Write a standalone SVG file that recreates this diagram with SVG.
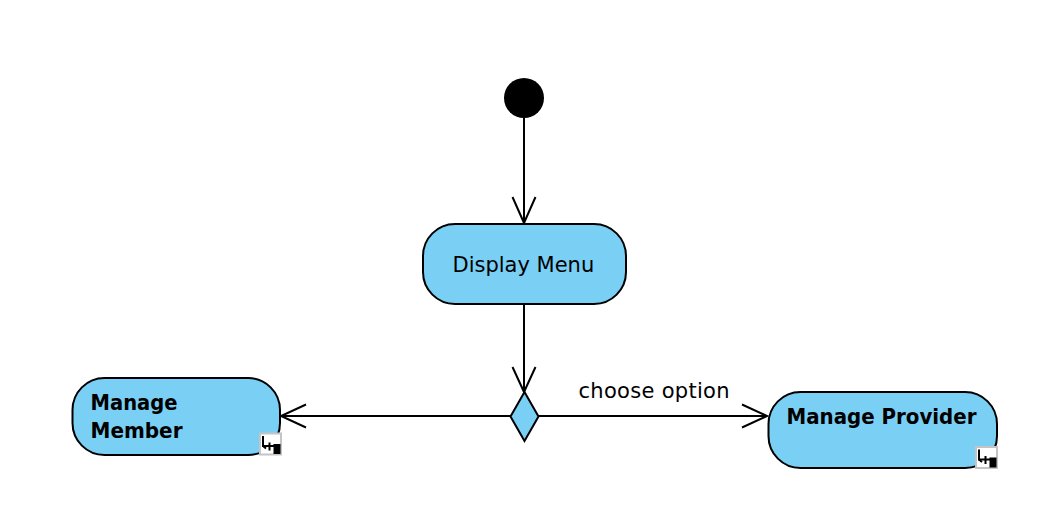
<svg xmlns="http://www.w3.org/2000/svg" width="1052" height="516" viewBox="0 0 1052 516">
<style>
.n{fill:#7acff5;stroke:#000;stroke-width:2}
.c{fill:none;stroke:#000;stroke-width:2}
text{font-family:"DejaVu Sans",sans-serif;font-size:21px;fill:#000}
.b{font-weight:bold}
.ib{fill:#fff;stroke:#c4c4c4;stroke-width:2}
.il{fill:none;stroke:#000;stroke-width:2}
</style>
<defs>
<g id="sub">
<rect class="ib" x="1" y="1" width="21" height="21"/>
<path class="il" d="M4 3.500V13.500H15M10.500 10V18"/>
<path class="il" d="M4 13.500L7 16"/>
<rect x="14.500" y="11.500" width="7" height="10" fill="#000"/>
</g>
</defs>
<rect width="1052" height="516" fill="#fff"/>
<g id="connectors">
<path class="c" d="M524 117V223M512.500 197L524 223L535.500 197"/>
<path class="c" d="M524 304V392M512.500 367L524 392L535.500 367"/>
<path class="c" d="M511 416H281M306 404.500L281 416L306 427.500"/>
<path class="c" d="M538 416H767M742 404.500L767 416L742 427.500"/>
</g>
<g id="start"><circle cx="524" cy="98" r="20" fill="#000"/></g>
<g id="display-menu">
<rect class="n" x="423" y="224" width="203" height="80" rx="32"/>
<text x="452.500" y="271.500">Display Menu</text>
</g>
<g id="decision">
<path class="n" d="M524.500 392L538.500 416.500L524.500 441L510.500 416.500Z"/>
</g>
<g id="manage-member">
<rect class="n" x="72.500" y="378" width="207.500" height="77" rx="32"/>
<text class="b" x="90.500" y="410" textLength="87" lengthAdjust="spacingAndGlyphs">Manage</text>
<text class="b" x="90.500" y="438" textLength="92" lengthAdjust="spacingAndGlyphs">Member</text>
<use href="#sub" x="259" y="432.500"/>
</g>
<g id="manage-provider">
<rect class="n" x="768.500" y="392" width="228.500" height="76" rx="32"/>
<text class="b" x="786.500" y="424" textLength="190" lengthAdjust="spacingAndGlyphs">Manage Provider</text>
<use href="#sub" x="975" y="446"/>
</g>
<g id="edge-label"><text x="578.500" y="398" textLength="151">choose option</text></g>
</svg>
